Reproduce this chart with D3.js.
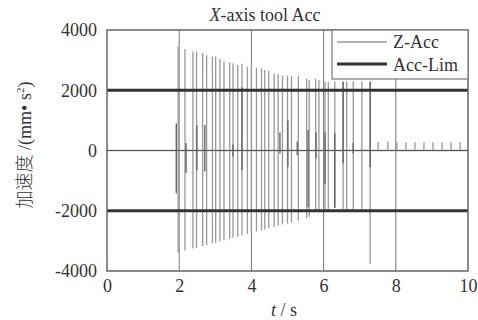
<!DOCTYPE html>
<html>
<head>
<meta charset="utf-8">
<script src="https://cdn.jsdelivr.net/npm/d3@7"></script>
<style>
  body { margin: 0; background: #fff; }
  svg { display: block; }
  text { font-family: "Liberation Serif", "DejaVu Serif", serif; fill: #333; }
</style>
</head>
<body>
<div id="chart"></div>
<script>
// tick values
const xTicks = [0, 2, 4, 6, 8, 10];
const yTicks = [-4000, -2000, 0, 2000, 4000];
const gridTimes = [2, 4, 6, 8];
const accLimits = [2000, -2000];

// Z-Acc main spikes (t in s, peak / trough in mm/s^2)
const spikeTime = [1.97, 2.16, 2.38, 2.48, 2.65, 2.76, 2.92, 3.01, 3.13, 3.24, 3.40, 3.49, 3.62, 3.74, 3.89,
  4.00, 4.14, 4.28, 4.37, 4.48, 4.63, 4.74, 4.86, 5.00, 5.11, 5.30, 5.53, 5.60, 5.78, 5.87,
  6.04, 6.13, 6.31, 6.54, 6.64, 6.82, 7.06, 7.29];
const spikeMax = [3440, 3370, 3290, 3290, 3240, 3160, 3120, 3120, 3040, 2960, 2920, 2900, 2840, 2880, 2780,
  2840, 2750, 2730, 2670, 2650, 2560, 2540, 2490, 2480, 2480, 2480, 2380, 2340, 2380, 2340,
  2270, 2270, 2300, 2300, 2300, 2300, 2300, 2300];
const spikeMin = [-3390, -3320, -3250, -3230, -3170, -3140, -3080, -3060, -3010, -2980, -2930, -2900, -2860, -2820, -2770,
  -2740, -2690, -2650, -2620, -2580, -2540, -2500, -2460, -2420, -2380, -2330, -2250, -2200, -2050, -2030,
  -1950, -1950, -1900, -1950, -1950, -1950, -1950, -3770];

// darker dense cores of the oscillation
const coreTime = [1.92, 2.19, 2.49, 2.71, 3.49, 3.74, 4.79, 5.01, 5.27, 5.57, 5.79, 6.04, 6.31, 6.54, 6.82, 7.29];
const coreMax = [900, 250, 850, 850, 200, 2100, 600, 1000, 300, 680, 600, 600, 570, 2270, 250, 2270];
const coreMin = [-1420, -750, -650, -700, -200, -650, -100, -550, -150, -1880, -250, -1100, -1900, -420, -100, -550];

// small residual pulses after the motion
const pulseTime = [7.51, 7.78, 8.03, 8.28, 8.53, 8.78, 9.03, 9.28, 9.53, 9.78];
const pulseMax = [280, 300, 270, 270, 270, 270, 270, 270, 270, 270];

const width = 478, height = 320;
const plotLeft = 107, plotRight = 468, plotTop = 30, plotBottom = 271;

const x = d3.scaleLinear().domain([0, 10]).range([plotLeft, plotRight]);
const y = d3.scaleLinear().domain([-4000, 4000]).range([plotBottom, plotTop]);

const svg = d3.select('#chart').append('svg')
  .attr('width', width)
  .attr('height', height);

// grid
svg.append('g')
  .selectAll('line')
  .data(gridTimes)
  .enter().append('line')
    .attr('x1', d => x(d)).attr('x2', d => x(d))
    .attr('y1', plotTop).attr('y2', plotBottom)
    .attr('stroke', '#777')
    .attr('stroke-width', 1);

// build Z-Acc as one polyline
const pts = [[0, 0]];
spikeTime.forEach((t, i) => {
  pts.push([t, 0], [t, spikeMax[i]], [t, spikeMin[i]], [t, 0]);
});
pulseTime.forEach((t, i) => {
  pts.push([t, 0], [t, pulseMax[i]], [t, 0]);
});
pts.push([10, 0]);

const line = d3.line().x(d => x(d[0])).y(d => y(d[1]));

svg.append('path')
  .datum(pts)
  .attr('d', line)
  .attr('fill', 'none')
  .attr('stroke', '#999')
  .attr('stroke-width', 1.3);

svg.append('g')
  .selectAll('line')
  .data(coreTime)
  .enter().append('line')
    .attr('x1', d => x(d)).attr('x2', d => x(d))
    .attr('y1', (d, i) => y(coreMax[i]))
    .attr('y2', (d, i) => y(coreMin[i]))
    .attr('stroke', '#666')
    .attr('stroke-width', 1.4);

// zero level
svg.append('line')
  .attr('x1', x(0)).attr('x2', x(10))
  .attr('y1', y(0)).attr('y2', y(0))
  .attr('stroke', '#555')
  .attr('stroke-width', 1.2);

// Acc-Lim
svg.append('g')
  .selectAll('line')
  .data(accLimits)
  .enter().append('line')
    .attr('x1', x(0)).attr('x2', x(10))
    .attr('y1', d => y(d)).attr('y2', d => y(d))
    .attr('stroke', '#333')
    .attr('stroke-width', 3);

// frame
svg.append('rect')
  .attr('x', plotLeft).attr('y', plotTop)
  .attr('width', plotRight - plotLeft).attr('height', plotBottom - plotTop)
  .attr('fill', 'none')
  .attr('stroke', '#666')
  .attr('stroke-width', 1.5);

// axes
svg.append('g')
  .attr('transform', `translate(${plotLeft},0)`)
  .call(d3.axisLeft(y).tickValues(yTicks).tickSize(0).tickPadding(10).tickFormat(d => String(d)))
  .call(g => g.select('.domain').remove())
  .call(g => g.selectAll('text').attr('font-size', 18).attr('font-family', '"Liberation Serif", serif').attr('fill', '#333'));

svg.append('g')
  .attr('transform', `translate(0,${plotBottom})`)
  .call(d3.axisBottom(x).tickValues(xTicks).tickSize(0).tickPadding(8).tickFormat(d => String(d)))
  .call(g => g.select('.domain').remove())
  .call(g => g.selectAll('text').attr('font-size', 18).attr('font-family', '"Liberation Serif", serif').attr('fill', '#333'));

// title
const title = svg.append('text')
  .attr('x', 265).attr('y', 21)
  .attr('text-anchor', 'middle')
  .attr('font-size', 18);
title.append('tspan').attr('font-style', 'italic').text('X');
title.append('tspan').text('-axis tool Acc');

// x label
const xl = svg.append('text')
  .attr('x', 284).attr('y', 316)
  .attr('text-anchor', 'middle')
  .attr('font-size', 18);
xl.append('tspan').attr('font-style', 'italic').text('t');
xl.append('tspan').text(' / s');

// y label
const yl = svg.append('text')
  .attr('transform', 'translate(31,145) rotate(-90)')
  .attr('text-anchor', 'middle')
  .attr('font-size', 18);
yl.append('tspan').attr('font-family', '"Noto Sans CJK SC", sans-serif').attr('font-weight', 300).text('加速度');
yl.append('tspan').text(' /(mm• s');
yl.append('tspan').attr('font-size', 11).attr('dy', -7).text('2');
yl.append('tspan').attr('dy', 7).text(')');

// legend
const legend = svg.append('g');
legend.append('rect')
  .attr('x', 332).attr('y', plotTop)
  .attr('width', plotRight - 332).attr('height', 49)
  .attr('fill', '#fff')
  .attr('stroke', '#777')
  .attr('stroke-width', 1.2);
legend.append('line')
  .attr('x1', 337).attr('x2', 387).attr('y1', 42).attr('y2', 42)
  .attr('stroke', '#999').attr('stroke-width', 1.3);
legend.append('text')
  .attr('x', 393).attr('y', 48)
  .attr('font-size', 18)
  .text('Z-Acc');
legend.append('line')
  .attr('x1', 337).attr('x2', 387).attr('y1', 64).attr('y2', 64)
  .attr('stroke', '#333').attr('stroke-width', 3);
legend.append('text')
  .attr('x', 393).attr('y', 71)
  .attr('font-size', 18)
  .text('Acc-Lim');
</script>
</body>
</html>
